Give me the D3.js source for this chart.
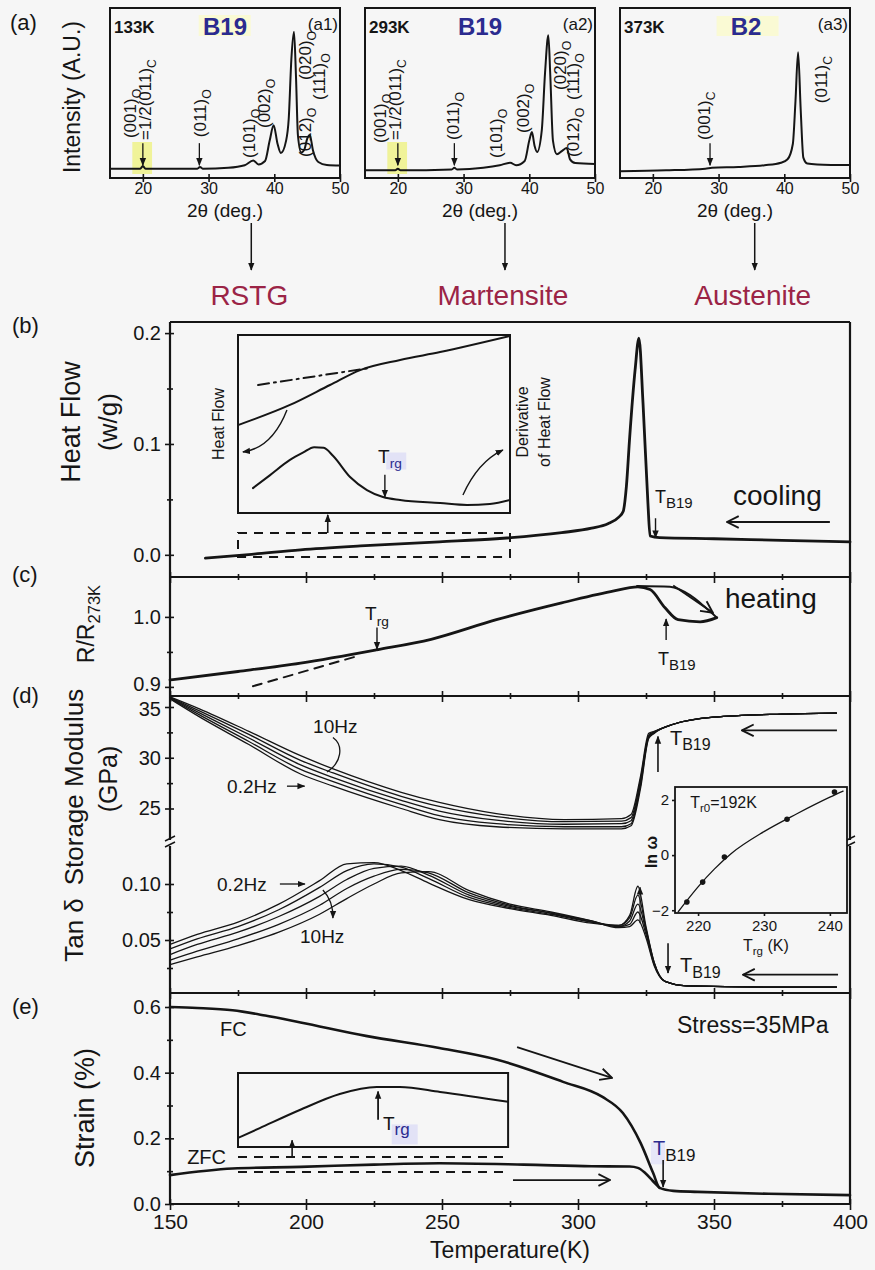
<!DOCTYPE html>
<html>
<head>
<meta charset="utf-8">
<script src="https://cdn.jsdelivr.net/npm/d3@7"></script>
<style>
  body { margin: 0; background: #f6f6f6; }
  svg text { font-family: "Liberation Sans", Arial, sans-serif; fill: #151515; }
</style>
</head>
<body>
<svg id="fig" width="875" height="1270"></svg>
<script>
// ---------------- data ----------------
// (a) XRD patterns: [2theta, intensity a.u.]
const xrd133K = [[15,5.5],[19.6,5.5],[20,7],[20.4,5.5],[28.3,5.5],[28.7,6.5],[29.1,5.5],[33,6],[35.5,7.5],[36.8,10.3],[37.6,8],[38.6,10],[39.3,22],[39.9,31],[40.5,20],[41,14.7],[41.8,22],[42.2,35],[42.6,70],[43,86],[43.3,60],[43.6,25],[44.1,15],[44.6,17],[45,23],[45.4,25.3],[45.9,16],[46.7,9.4],[48,7.6],[50,7.3]];
const xrd293K = [[15,4.5],[19.6,4.5],[20,5.5],[20.4,4.5],[28.2,5],[28.6,6],[29,5],[33,6],[35.5,7.5],[37.1,9],[38,7.5],[39.3,10],[40,22],[40.4,27],[40.8,19],[41.2,15.3],[41.9,28],[42.4,62],[42.9,84],[43.2,60],[43.6,22],[44.2,14],[45,16],[45.7,17.6],[46.2,11],[47,8.8],[50,8.2]];
const xrd373K = [[15,4],[22,4.5],[28,5.5],[29,6],[33,6.5],[37,7.5],[39.5,9],[40.5,11],[41.3,20],[41.7,45],[42.1,74],[42.5,40],[42.9,12],[43.5,8.5],[45,8],[50,7.6]];
const xrdTicks = [20, 30, 40, 50];
const xrdTemps = ["133K", "293K", "373K"];
const xrdStructs = ["B19", "B19", "B2"];
const xrdTags = ["(a1)", "(a2)", "(a3)"];
const phaseNames = ["RSTG", "Martensite", "Austenite"];
// peak labels: [text, subscript, 2theta, intensity at text start]
const peaks133K = [["(001)","O",19.0,23.5],["=1/2(011)","C",21.3,22.4],["(011)","O",29.6,24],["(101)","O",37.1,11.8],["(002)","O",39.4,29.4],["(020)","O",45.6,57.6],["(111)","O",47.7,45.9],["(012)","O",45.6,12.4]];
const peaks293K = [["(001)","O",18.2,20.6],["=1/2(011)","C",20.5,22.4],["(011)","O",29.3,22.4],["(101)","O",35.9,11.8],["(002)","O",40.0,26.5],["(020)","O",45.6,51.8],["(111)","O",47.6,45.9],["(012)","O",47.6,12.4]];
const peaks373K = [["(001)","C",28.7,22.4],["(011)","C",46.5,44]];
const xrdArrowPos = [[20, 28.6], [20, 28.6], [28.7]];

// (b) heat flow on cooling: [T (K), W/g]
const heatFlow = [[163,-0.003],[180,0.0005],[198,0.0045],[220,0.008],[249,0.0117],[270,0.0145],[294,0.02],[305,0.024],[311,0.028],[315,0.034],[316.6,0.039],[317.8,0.062],[319,0.106],[321,0.167],[322.4,0.1955],[323.9,0.137],[325.7,0.047],[326.5,0.017],[330,0.0155],[350,0.0145],[375,0.013],[400,0.0117]];
// inset of (b): magnified heat flow and its derivative (arb. units)
const insetHeatFlow = [[175,49.4],[194.1,60.7],[208.8,71.9],[219.9,80.3],[234.6,86],[249.3,90.4],[275,99.4]];
const insetDeriv = [[180.5,14],[186.8,21.3],[194.1,29.8],[199,34],[203,37],[206.5,36.6],[210,32],[216.2,20.2],[222.4,12.9],[228.3,9],[234.6,7.3],[249.3,5.6],[259.2,4.5],[267.6,5],[275,7.3]];
const insetTangent = [[182.4,71.9],[223.5,81.5]];

// (c) resistance ratio
const resist = [[150,0.91],[175,0.922],[198,0.934],[226,0.953],[246,0.968],[270,0.996],[294,1.02],[312,1.036],[322,1.043],[326.5,1.039],[332,1.013],[336.8,0.996],[344.9,0.993],[351,0.999]];
const resistHeat = [[321.7,1.044],[333.8,1.043],[341.2,1.031],[346.7,1.014],[351,0.999]];
const resistExtrap = [[180.5,0.901],[218,0.943]];

// (d) storage modulus (GPa) for five frequencies, 0.2 Hz ... 10 Hz
const modT = [150,161,179,198,210,235,249,270,295,316,319.5,323,326,328,335,350,375,395];
const mod02Hz = [35.8,34.0,31.3,28.4,27.2,25.0,23.9,23.2,23.0,23.0,23.3,27.0,31.9,32.4,33.3,34.0,34.3,34.4];
const mod05Hz = [35.85,34.2,31.6,28.85,27.65,25.4,24.3,23.5,23.2,23.2,23.5,27.3,32.0,32.45,33.3,34.0,34.3,34.4];
const mod1Hz = [35.9,34.4,31.95,29.3,28.05,25.8,24.75,23.85,23.45,23.5,23.8,27.6,32.1,32.5,33.3,34.0,34.3,34.4];
const mod5Hz = [35.95,34.6,32.3,29.75,28.5,26.2,25.2,24.2,23.7,23.75,24.1,27.9,32.2,32.55,33.3,34.0,34.3,34.4];
const mod10Hz = [36.0,34.8,32.6,30.2,28.9,26.6,25.6,24.5,23.9,24.0,24.4,28.2,32.4,32.6,33.3,34.0,34.3,34.4];
// (d) tan delta for the same frequencies
const tanT = [150,160,175,190,205,215,225,235,245,260,275,290,305,315,319,322,325,328,332,340,370,395];
const tan02Hz = [.046,.055,.066,.082,.103,.118,.119,.112,.101,.086,.078,.072,.065,.063,.072,.098,.062,.030,.013,.009,.008,.008];
const tan05Hz = [.042,.051,.062,.077,.097,.112,.118,.115,.105,.088,.079,.073,.066,.063,.070,.090,.060,.030,.013,.009,.008,.008];
const tan1Hz = [.037,.046,.057,.071,.089,.104,.114,.116,.108,.090,.080,.074,.066,.062,.067,.082,.058,.029,.013,.009,.008,.008];
const tan5Hz = [.032,.040,.051,.064,.081,.096,.107,.113,.110,.092,.081,.074,.067,.062,.064,.075,.055,.028,.013,.009,.008,.008];
const tan10Hz = [.028,.035,.045,.057,.073,.087,.100,.110,.111,.094,.082,.075,.067,.061,.062,.068,.052,.027,.013,.009,.008,.008];
// inset of (d): ln(omega) vs T_rg, with Vogel-Fulcher fit (T0 = 192 K)
const lnOmega = [[218.3,-1.7],[220.7,-0.98],[224,-0.07],[233.5,1.3],[240.7,2.29]];
const vfFit = [[217,-2.05],[218.3,-1.65],[220,-1.15],[222.5,-0.5],[225,0.05],[230,0.85],[235,1.5],[240,2.1],[242,2.32]];

// (e) strain under 35 MPa
const strainFC = [[150,0.6],[160,0.597],[173,0.59],[185,0.574],[198,0.553],[222,0.512],[249,0.475],[270,0.44],[294.5,0.372],[309,0.326],[316.5,0.277],[323,0.186],[327.6,0.095],[330,0.049],[335,0.04],[344,0.037],[370,0.031],[400,0.027]];
const strainZFC = [[150,0.088],[173,0.108],[198,0.113],[225,0.12],[249,0.124],[280,0.12],[305,0.115],[319,0.114],[322,0.11],[324.6,0.095],[327.5,0.07],[330,0.049]];
const insetZFC = [[175,0.1122],[183,0.1146],[197.7,0.119],[212.4,0.1229],[226,0.1246],[234.5,0.1246],[249.3,0.1234],[274.3,0.121]];

const tempTicks = [150, 200, 250, 300, 350, 400];
const tempMinor = [175, 225, 275, 325, 375];

// ---------------- setup ----------------
const INK = "#151515";
const BLUE = "#2b2b8f";
const svg = d3.select("#fig");
svg.append("rect").attr("width", 875).attr("height", 1270).attr("fill", "#f6f6f6");

const defs = svg.append("defs");
defs.append("marker").attr("id", "tri").attr("viewBox", "0 0 10 10")
  .attr("refX", 9).attr("refY", 5).attr("markerWidth", 8).attr("markerHeight", 8)
  .attr("markerUnits", "userSpaceOnUse").attr("orient", "auto")
  .append("path").attr("d", "M0,1 L10,5 L0,9 Z").attr("fill", INK);
defs.append("marker").attr("id", "chev").attr("viewBox", "0 0 12 12")
  .attr("refX", 11).attr("refY", 6).attr("markerWidth", 14).attr("markerHeight", 14)
  .attr("markerUnits", "userSpaceOnUse").attr("orient", "auto")
  .append("path").attr("d", "M1,1 L11,6 L1,11").attr("fill", "none")
  .attr("stroke", INK).attr("stroke-width", 1.6);

function txt(g, px, py, s, o = {}) {
  const t = g.append("text")
    .attr("x", px).attr("y", py)
    .attr("font-size", o.size || 20)
    .attr("text-anchor", o.anchor || "start")
    .attr("font-weight", o.bold ? "bold" : null)
    .text(s);
  if (o.color) t.style("fill", o.color);
  if (o.rot) t.attr("transform", `rotate(-90,${px},${py})`);
  if (o.len) t.attr("textLength", o.len).attr("lengthAdjust", "spacingAndGlyphs");
  return t;
}
function txtSub(g, px, py, main, sub, o = {}) {
  const size = o.size || 20;
  const t = txt(g, px, py, main, o);
  const ts = t.append("tspan").attr("dy", size * 0.28).attr("font-size", (o.subSize || size * 0.72)).text(sub);
  if (o.subColor) ts.style("fill", o.subColor);
  return t;
}
function curve(g, data, xs, ys, o = {}) {
  return g.append("path").datum(data)
    .attr("d", d3.line().x(d => xs(d[0])).y(d => ys(d[1])).curve(o.curve || d3.curveMonotoneX))
    .attr("fill", "none").attr("stroke", INK)
    .attr("stroke-width", o.w || 2.2)
    .attr("stroke-dasharray", o.dash || null)
    .attr("stroke-linejoin", "round").attr("stroke-linecap", "round");
}
function arrow(g, x1, y1, x2, y2, o = {}) {
  return g.append("line").attr("x1", x1).attr("y1", y1).attr("x2", x2).attr("y2", y2)
    .attr("stroke", INK).attr("stroke-width", o.w || 1.5)
    .attr("marker-end", `url(#${o.head || "tri"})`);
}
function qArrow(g, p0, c, p1, o = {}) {
  return g.append("path").attr("d", `M${p0[0]},${p0[1]} Q${c[0]},${c[1]} ${p1[0]},${p1[1]}`)
    .attr("fill", "none").attr("stroke", INK).attr("stroke-width", o.w || 1.4)
    .attr("marker-end", `url(#${o.head || "tri"})`);
}
function styleAxis(g, size) {
  g.select(".domain").remove();
  g.attr("font-family", null).attr("font-size", size);
  g.selectAll(".tick line").attr("stroke", INK).attr("stroke-width", 1.6);
}

// ---------------- (a) XRD ----------------
const xrdSets = [xrd133K, xrd293K, xrd373K];
const peakSets = [peaks133K, peaks293K, peaks373K];
const xrdLeft = [110, 365, 620];
const ya = d3.scaleLinear([0, 100], [178, 8]);
const gA = svg.append("g");
txt(gA, 10, 30, "(a)", { size: 22 });
txt(gA, 80, 97, "Intensity (A.U.)", { size: 23, rot: true, anchor: "middle" });

xrdSets.forEach((data, i) => {
  const xa = d3.scaleLinear([15, 50], [xrdLeft[i], xrdLeft[i] + 230]);
  const g = gA.append("g");
  // highlights
  if (i < 2) g.append("rect").attr("x", xa(18.4)).attr("y", 142).attr("width", xa(21.4) - xa(18.4)).attr("height", 32).attr("fill", "#eef27a").attr("opacity", 0.75);
  if (i === 0) g.append("rect").attr("x", xa(28.5)).attr("y", 15).attr("width", 52).attr("height", 21).attr("fill", "#fafad4");
  if (i === 2) g.append("rect").attr("x", xa(29.7)).attr("y", 16).attr("width", 62).attr("height", 20).attr("fill", "#fafad4");

  g.append("rect").attr("x", xa(15)).attr("y", 8).attr("width", 230).attr("height", 170)
    .attr("fill", "none").attr("stroke", INK).attr("stroke-width", 2);
  const ax = g.append("g").attr("transform", "translate(0,178)")
    .call(d3.axisBottom(xa).tickValues(xrdTicks).tickSize(4).tickPadding(1));
  styleAxis(ax, 16);
  ax.selectAll(".tick line").attr("y1", -4);
  curve(g, data, xa, ya, { w: 2 });

  txt(g, xa(15) + 4, 33, xrdTemps[i], { size: 17, bold: true });
  txt(g, xa(15) + (i === 2 ? 126 : 115), 35, xrdStructs[i], { size: 24, bold: true, anchor: "middle", color: BLUE });
  txt(g, xa(50) - 2, 30, xrdTags[i], { size: 17, anchor: "end" });

  peakSets[i].forEach(p => {
    txtSub(g, xa(p[2]), ya(p[3]), p[0], p[1], { size: 17, rot: true });
  });
  xrdArrowPos[i].forEach(t => arrow(g, xa(t), ya(20.5), xa(t), ya(7.5), { w: 1.3 }));

  txt(g, xa(32.5), 217, "2\u03b8 (deg.)", { size: 19, anchor: "middle" });
  const ar = [36.5, 36.3, 35.5][i];
  arrow(g, xa(ar), 223, xa(ar), 270, { w: 1.5 });
  txt(g, xa(ar) - 2, 305, phaseNames[i], { size: 28, anchor: "middle", color: "#9b2446" });
});

// ---------------- main temperature axis ----------------
const x = d3.scaleLinear([150, 400], [170, 850]);
const yB = d3.scaleLinear([-0.02, 0.21], [577, 322]);
const yC = d3.scaleLinear([0.887, 1.057], [696, 577]);
const yDu = d3.scaleLinear([25, 35], [808.5, 707]);
const yDl = d3.scaleLinear([0.05, 0.10], [940, 884]);
const yE = d3.scaleLinear([0, 0.6], [1204, 1007]);
const bounds = [322, 577, 696, 993, 1204];

const gM = svg.append("g");
// frame
gM.append("line").attr("x1", 170).attr("x2", 170).attr("y1", 322).attr("y2", 1204).attr("stroke", INK).attr("stroke-width", 2.2);
gM.append("line").attr("x1", 850).attr("x2", 850).attr("y1", 322).attr("y2", 1204).attr("stroke", INK).attr("stroke-width", 2.2);
bounds.forEach(b => gM.append("line").attr("x1", 170).attr("x2", 850).attr("y1", b).attr("y2", b).attr("stroke", INK).attr("stroke-width", 2.2));

// x ticks on every panel boundary
bounds.slice(1).forEach((b, i) => {
  const last = i === bounds.length - 2;
  const ax = gM.append("g").attr("transform", `translate(0,${b})`)
    .call(d3.axisBottom(x).tickValues(tempTicks).tickSize(6).tickPadding(4).tickFormat(last ? d3.format("d") : ""));
  styleAxis(ax, 21);
  ax.selectAll(".tick line").attr("y1", -5);
  const mi = gM.append("g").attr("transform", `translate(0,${b})`)
    .call(d3.axisBottom(x).tickValues(tempMinor).tickSize(3).tickFormat(""));
  styleAxis(mi, 10);
  mi.selectAll(".tick line").attr("y1", -3);
});
txt(gM, 510, 1258, "Temperature(K)", { size: 23, anchor: "middle" });

function yTicks(scale, major, minor, fmt, nudge = {}) {
  const a = gM.append("g").attr("transform", "translate(170,0)")
    .call(d3.axisLeft(scale).tickValues(major).tickSize(5).tickPadding(4).tickFormat(d3.format(fmt)));
  styleAxis(a, 20);
  a.selectAll(".tick line").attr("x1", 4);
  a.selectAll(".tick text").attr("y", d => nudge[d] || 0);
  const m = gM.append("g").attr("transform", "translate(170,0)")
    .call(d3.axisLeft(scale).tickValues(minor).tickSize(3).tickFormat(""));
  styleAxis(m, 10);
  m.selectAll(".tick line").attr("x1", 3);
}
yTicks(yB, [0, 0.1, 0.2], [0.05, 0.15], ".1f");
yTicks(yC, [0.9, 1.0], [0.95], ".1f", { 0.9: -3 });
yTicks(yDu, [25, 30, 35], [27.5, 32.5], "d", { 35: 2 });
yTicks(yDl, [0.05, 0.10], [0.025, 0.075], ".2f");
yTicks(yE, [0, 0.2, 0.4, 0.6], [0.1, 0.3, 0.5], ".1f");

// axis break marks in (d)
[170, 850].forEach(bx => {
  gM.append("rect").attr("x", bx - 4).attr("y", 840).attr("width", 8).attr("height", 6).attr("fill", "#f6f6f6");
  [838, 844].forEach(by => gM.append("line").attr("x1", bx - 5).attr("x2", bx + 5).attr("y1", by + 3).attr("y2", by - 2)
    .attr("stroke", INK).attr("stroke-width", 1.5));
});

// panel letters and axis titles
txt(gM, 12, 333, "(b)", { size: 22 });
txt(gM, 12, 582, "(c)", { size: 22 });
txt(gM, 12, 703, "(d)", { size: 22 });
txt(gM, 12, 1014, "(e)", { size: 22 });
txt(gM, 80, 422, "Heat Flow", { size: 27, rot: true, anchor: "middle" });
txt(gM, 117, 422, "(w/g)", { size: 26, rot: true, anchor: "middle" });
txtSub(gM, 94, 624, "R/R", "273K", { size: 23, rot: true, anchor: "middle" });
txt(gM, 83, 787, "Storage Modulus", { size: 26, rot: true, anchor: "middle" });
txt(gM, 117, 779, "(GPa)", { size: 25, rot: true, anchor: "middle" });
txt(gM, 83, 930, "Tan \u03b4", { size: 26, rot: true, anchor: "middle" });
txt(gM, 94, 1108, "Strain (%)", { size: 27, rot: true, anchor: "middle" });

// ---------------- (b) heat flow ----------------
const gB = svg.append("g");
curve(gB, heatFlow, x, yB, { w: 2.8 });
// dashed region that is magnified in the inset
gB.append("rect").attr("x", x(175)).attr("y", yB(0.0197)).attr("width", x(275) - x(175)).attr("height", yB(-0.002) - yB(0.0197))
  .attr("fill", "none").attr("stroke", INK).attr("stroke-width", 2).attr("stroke-dasharray", "9,7");
arrow(gB, x(208), yB(0.0197), x(208), yB(0.036), { w: 1.6 });
// inset
const yi = d3.scaleLinear([0, 100], [513, 335]);
gB.append("rect").attr("x", x(175)).attr("y", 335).attr("width", x(275) - x(175)).attr("height", 178)
  .attr("fill", "none").attr("stroke", INK).attr("stroke-width", 2);
curve(gB, insetHeatFlow, x, yi, { w: 2 });
curve(gB, insetDeriv, x, yi, { w: 2 });
curve(gB, insetTangent, x, yi, { w: 2, dash: "11,5,2,5", curve: d3.curveLinear });
txt(gB, 224, 424, "Heat Flow", { size: 16, rot: true, anchor: "middle" });
txt(gB, 528, 422, "Derivative", { size: 16, rot: true, anchor: "middle" });
txt(gB, 550, 422, "of Heat Flow", { size: 16, rot: true, anchor: "middle" });
gB.append("rect").attr("x", x(229.5)).attr("y", yi(34)).attr("width", 20).attr("height", 17).attr("fill", "#e2e2f6");
txtSub(gB, x(226.5), yi(28), "T", "rg", { size: 19, subColor: BLUE });
arrow(gB, x(229), yi(21.5), x(229), yi(9), { w: 1.4 });
qArrow(gB, [x(193), yi(57.9)], [x(187.5), yi(36.5)], [x(176.8), yi(34.3)]);
qArrow(gB, [x(257.7), yi(10.1)], [x(263.2), yi(28.7)], [x(272.4), yi(35.4)]);
// annotations
txtSub(gB, x(328.3), yB(0.047), "T", "B19", { size: 18, subSize: 15 });
arrow(gB, x(328.5), yB(0.033), x(328.5), yB(0.0155), { w: 1.4 });
txt(gB, x(357), yB(0.045), "cooling", { size: 28 });
arrow(gB, x(392.6), yB(0.0296), x(354.8), yB(0.0296), { w: 1.8, head: "chev" });

// ---------------- (c) resistance ----------------
const gC = svg.append("g");
curve(gC, resist, x, yC, { w: 2.8 });
curve(gC, resistHeat, x, yC, { w: 2 });
curve(gC, resistExtrap, x, yC, { w: 2, dash: "9,7", curve: d3.curveLinear });
txtSub(gC, x(221.7), yC(0.995), "T", "rg", { size: 19 });
arrow(gC, x(226.1), yC(0.985), x(226.1), yC(0.954), { w: 1.4 });
txtSub(gC, x(329.4), yC(0.932), "T", "B19", { size: 18, subSize: 15 });
arrow(gC, x(332.4), yC(0.967), x(332.4), yC(0.997), { w: 1.4 });
arrow(gC, x(335), yC(1.045), x(349.6), yC(1.006), { w: 1.8, head: "chev" });
txt(gC, x(354), yC(1.013), "heating", { size: 28 });

// ---------------- (d) DMA ----------------
const gD = svg.append("g");
const zip = (ts, vs) => ts.map((t, i) => [t, vs[i]]);
[mod02Hz, mod05Hz, mod1Hz, mod5Hz, mod10Hz].forEach(m => curve(gD, zip(modT, m), x, yDu, { w: 1.3 }));
[tan02Hz, tan05Hz, tan1Hz, tan5Hz, tan10Hz].forEach(m => curve(gD, zip(tanT, m), x, yDl, { w: 1.3 }));
// storage modulus labels
txt(gD, x(202.6), yDu(32.4), "10Hz", { size: 19 });
gD.append("path").attr("d", `M${x(209.9)},${yDu(32)} C${x(214)},${yDu(31.2)} ${x(213)},${yDu(29.5)} ${x(207.7)},${yDu(28.6)}`)
  .attr("fill", "none").attr("stroke", INK).attr("stroke-width", 1.3);
txt(gD, x(171), yDu(26.5), "0.2Hz", { size: 19 });
arrow(gD, x(193), yDu(27.2), x(199.5), yDu(27.2), { w: 1.3 });
txtSub(gD, x(333.8), yDu(31.3), "T", "B19", { size: 20, subSize: 16 });
arrow(gD, x(329.4), yDu(28.6), x(329.4), yDu(32.1), { w: 1.6 });
arrow(gD, x(395.2), yDu(32.7), x(360.3), yDu(32.7), { w: 1.8, head: "chev" });
// tan delta labels
txt(gD, x(167.3), yDl(0.094), "0.2Hz", { size: 19 });
arrow(gD, x(190.4), yDl(0.1), x(199.6), yDl(0.1), { w: 1.3 });
txt(gD, x(197.8), yDl(0.047), "10Hz", { size: 19 });
qArrow(gD, [x(206.2), yDl(0.0946)], [x(210), yDl(0.085)], [x(209.9), yDl(0.0696)], { w: 1.3 });
arrow(gD, x(322.8), yDl(0.065), x(322.8), yDl(0.097), { w: 1.2 });
txtSub(gD, x(337.5), yDl(0.021), "T", "B19", { size: 20, subSize: 16 });
arrow(gD, x(333.1), yDl(0.047), x(333.1), yDl(0.0205), { w: 1.6 });
arrow(gD, x(395.6), yDl(0.019), x(360.7), yDl(0.019), { w: 1.8, head: "chev" });

// inset: ln(omega) vs T_rg
const xd = d3.scaleLinear([216.5, 242.6], [675, 847]);
const yd = d3.scaleLinear([-2.1, 2.47], [913, 787]);
gD.append("rect").attr("x", 675).attr("y", 787).attr("width", 172).attr("height", 126)
  .attr("fill", "#f6f6f6").attr("stroke", INK).attr("stroke-width", 1.8);
curve(gD, vfFit, xd, yd, { w: 1.3 });
gD.selectAll(".lnpt").data(lnOmega).join("circle").attr("class", "lnpt")
  .attr("cx", d => xd(d[0])).attr("cy", d => yd(d[1])).attr("r", 2.8).attr("fill", INK);
const axd = gD.append("g").attr("transform", "translate(0,913)")
  .call(d3.axisBottom(xd).tickValues([220, 230, 240]).tickSize(3).tickPadding(4));
styleAxis(axd, 15);
const ayd = gD.append("g").attr("transform", "translate(675,0)")
  .call(d3.axisLeft(yd).tickValues([-2, 0, 2]).tickSize(3).tickPadding(3).tickFormat(d3.format("d")));
styleAxis(ayd, 15);
txtSub(gD, xd(218.8), yd(1.71), "T", "r0", { size: 16 }).append("tspan").attr("dy", -4).attr("font-size", 16).text("=192K");
txt(gD, 657, 852, "ln \u03c9", { size: 16, bold: true, rot: true, anchor: "middle" });
txtSub(gD, 743, 951, "T", "rg", { size: 16 }).append("tspan").attr("dy", -4).attr("font-size", 16).text(" (K)");

// ---------------- (e) strain ----------------
const gE = svg.append("g");
curve(gE, strainFC, x, yE, { w: 2.6 });
curve(gE, strainZFC, x, yE, { w: 2.6 });
[0.143, 0.0976].forEach(v => gE.append("line").attr("x1", x(175)).attr("x2", x(275)).attr("y1", yE(v)).attr("y2", yE(v))
  .attr("stroke", INK).attr("stroke-width", 2).attr("stroke-dasharray", "9,7"));
arrow(gE, x(194.9), yE(0.143), x(194.9), yE(0.194), { w: 1.6 });
const ye = d3.scaleLinear([0.110, 0.128], [1147, 1073]);
gE.append("rect").attr("x", x(175)).attr("y", 1073).attr("width", x(274.3) - x(175)).attr("height", 74)
  .attr("fill", "none").attr("stroke", INK).attr("stroke-width", 2);
curve(gE, insetZFC, x, ye, { w: 2 });
gE.append("rect").attr("x", x(231.5)).attr("y", ye(0.1155)).attr("width", 26).attr("height", 20).attr("fill", "#e2e2f6");
txtSub(gE, x(228.3), ye(0.1141), "T", "rg", { size: 19, subSize: 17, subColor: BLUE });
arrow(gE, x(226.5), ye(0.1166), x(226.5), ye(0.1235), { w: 1.8 });
txt(gE, x(168.4), yE(0.512), "FC", { size: 20 });
txt(gE, x(156.3), yE(0.122), "ZFC", { size: 20 });
arrow(gE, x(277.6), yE(0.478), x(312.5), yE(0.384), { w: 1.8, head: "chev" });
arrow(gE, x(276.1), yE(0.073), x(311.8), yE(0.073), { w: 1.8, head: "chev" });
gE.append("rect").attr("x", x(326.8)).attr("y", yE(0.188)).attr("width", 14).attr("height", 22).attr("fill", "#e6e6f8");
txtSub(gE, x(327.6), yE(0.149), "T", "B19", { size: 20, subSize: 17 }).style("fill", BLUE).select("tspan").style("fill", INK);
arrow(gE, x(331.3), yE(0.134), x(331.3), yE(0.052), { w: 1.6 });
txt(gE, x(336.4), yE(0.521), "Stress=35MPa", { size: 23 });
</script>
</body>
</html>
